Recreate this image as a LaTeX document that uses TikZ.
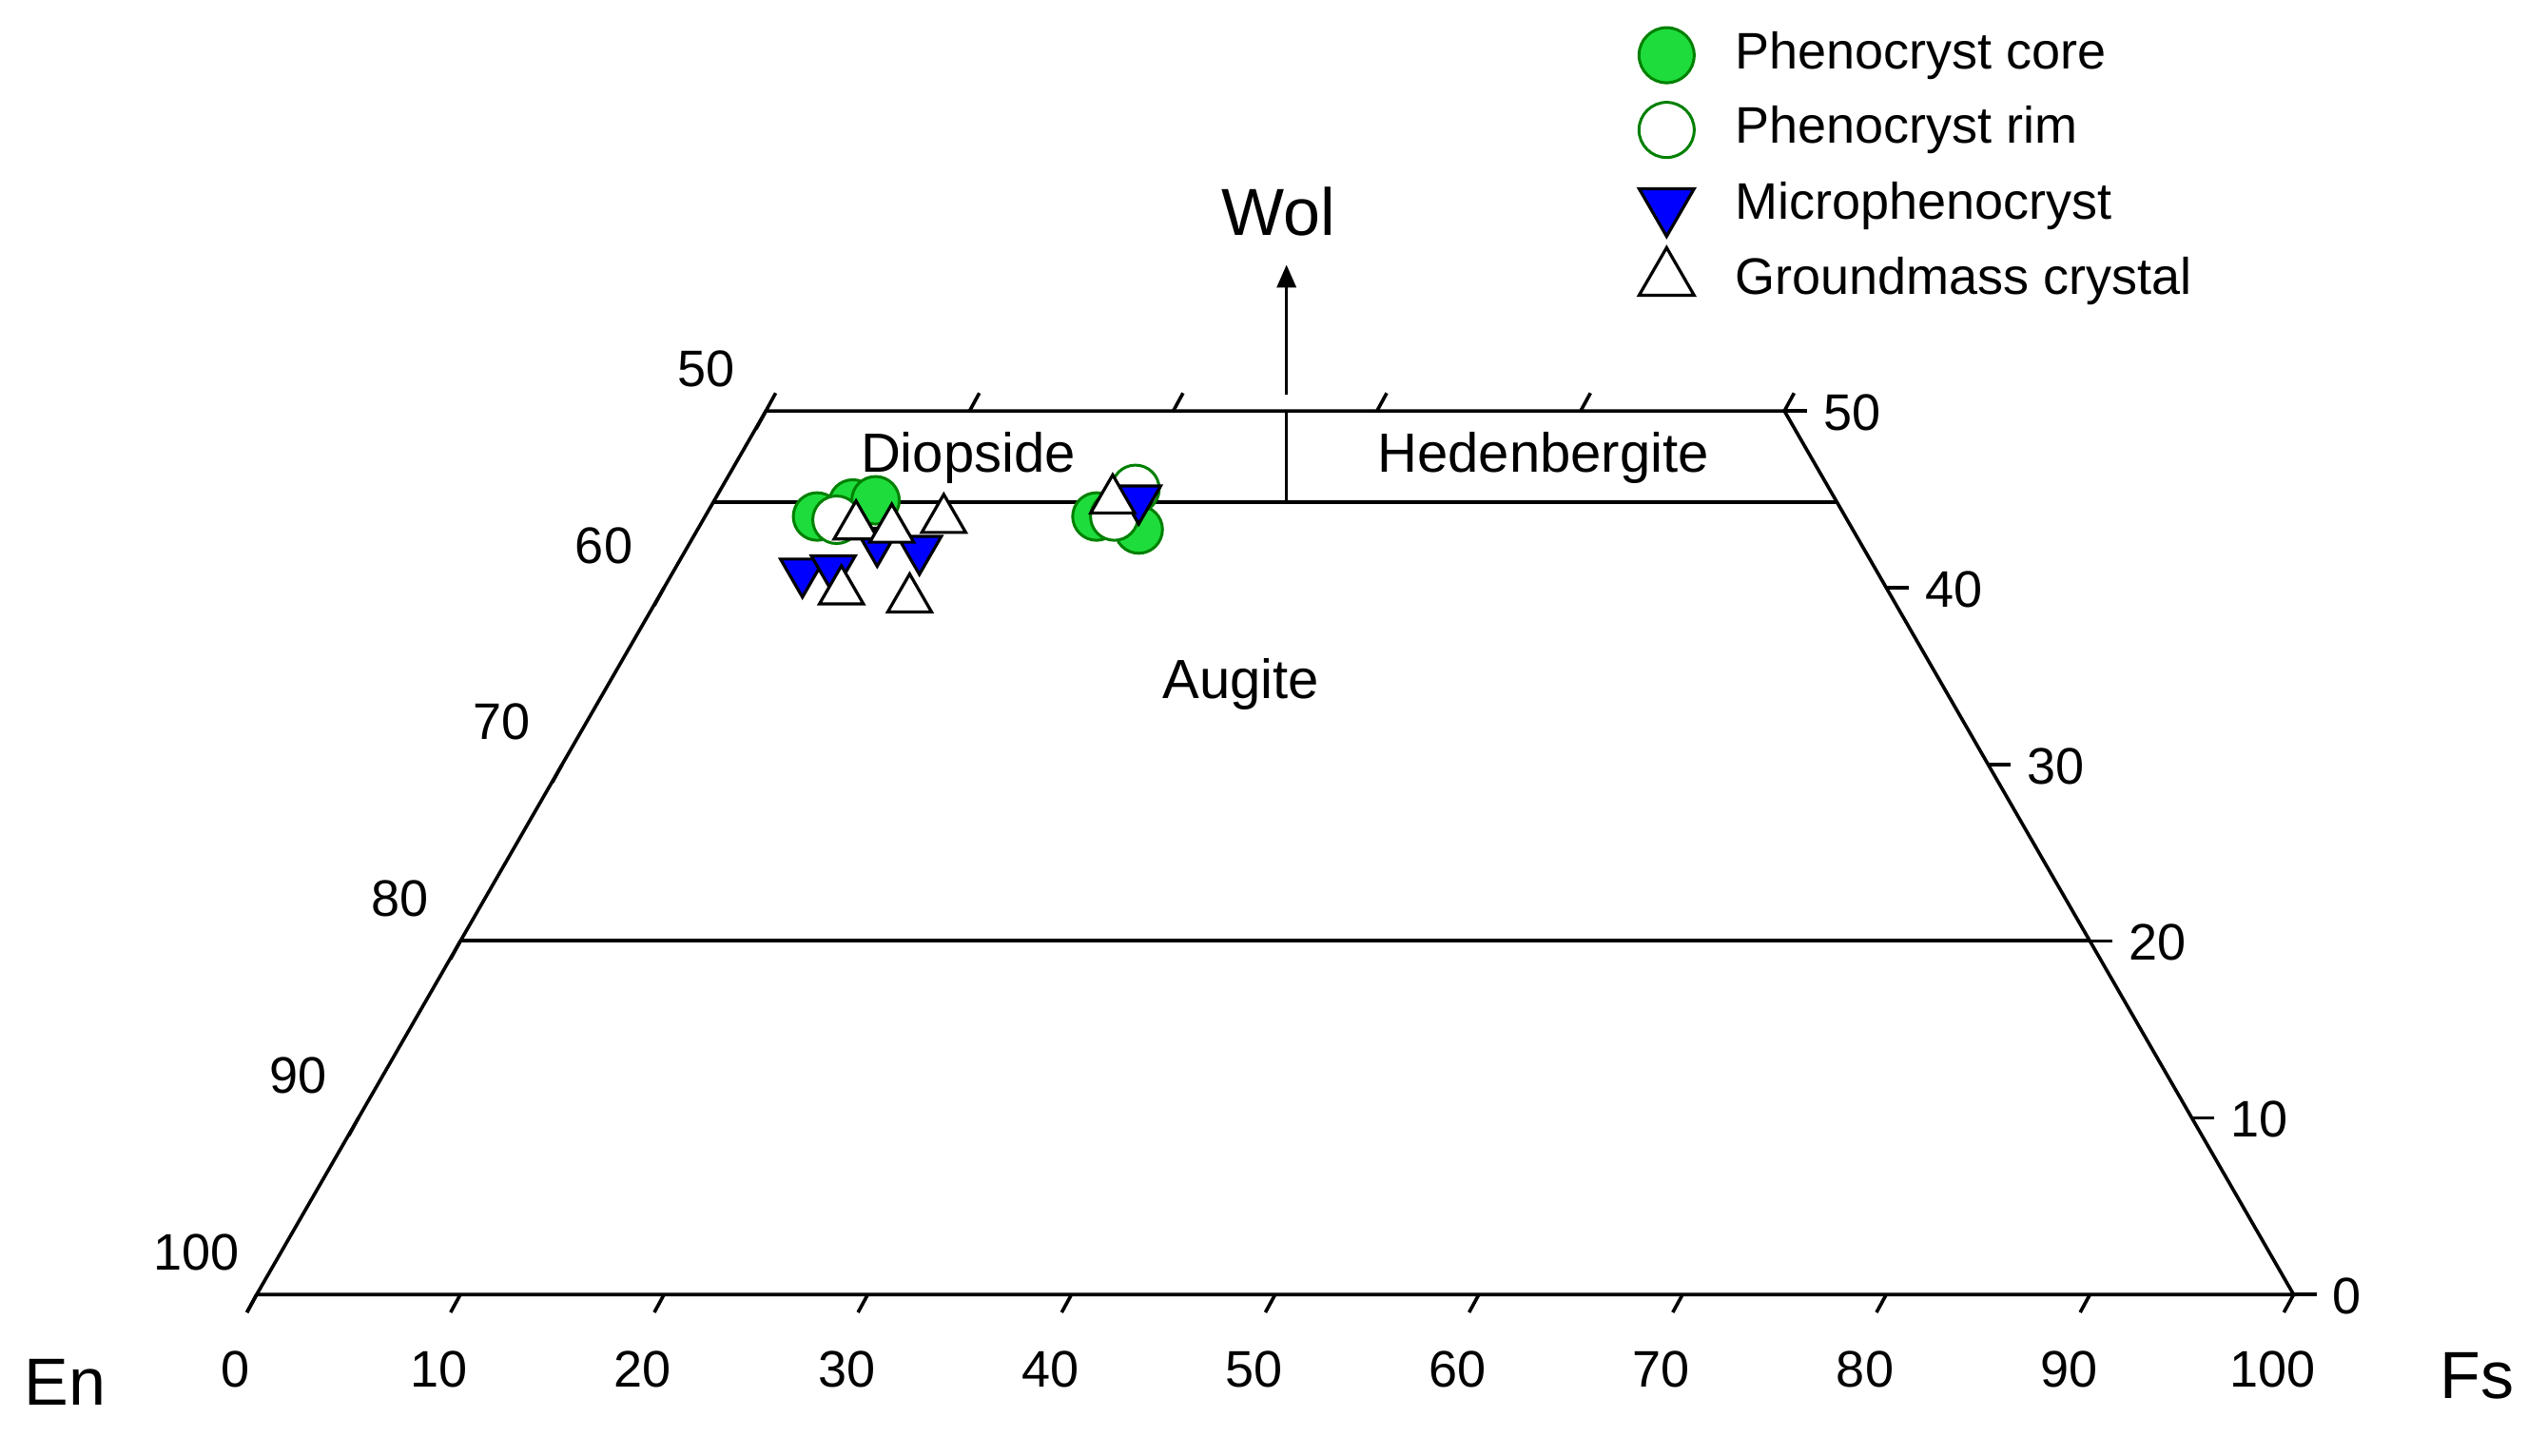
\documentclass[tikz,border=0pt]{standalone}
\usepackage{fontspec}
\setmainfont{Liberation Sans}
\usetikzlibrary{shapes.geometric,arrows.meta}
\begin{document}
\begin{tikzpicture}[x=0.03cm,y=-0.03cm,
  lab/.style={font=\fontsize{27}{31}\selectfont},
  big/.style={font=\fontsize{35}{40}\selectfont},
  gf/.style={circle,draw=green!50!black,line width=1.5pt,fill={rgb,255:red,30;green,220;blue,60},minimum size=25,inner sep=0},
  go/.style={circle,draw=green!50!black,line width=1.5pt,fill=white,minimum size=25,inner sep=0},
  bt/.style={isosceles triangle,isosceles triangle apex angle=60,shape border rotate=-90,draw=black,line width=1.6pt,fill=blue,minimum height=20,inner sep=0},
  wt/.style={isosceles triangle,isosceles triangle apex angle=60,shape border rotate=90,draw=black,line width=1.6pt,fill=white,minimum height=20,inner sep=0},
  ln/.style={line width=1.8pt}]
\useasboundingbox (0,0) rectangle (1568,896);
% frame
\coordinate (BL) at (158,797); \coordinate (BR) at (1412,797);
\coordinate (TL) at (471.5,253); \coordinate (TR) at (1098.5,253);
\draw[ln] (BL) -- (BR) -- (TR) -- (TL) -- cycle;
\draw[ln] (440,309) -- (1130,309);
\draw[ln] (283.4,579) -- (1286.6,579);
\draw[ln] (792,253) -- (792,309);
\coordinate (arA) at (792,243); \coordinate (arB) at (792,163);
\draw[ln,-{Triangle[length=12pt,width=10pt]}] (arA) -- (arB);
\node[big] (wol) at (787,130) {Wol};
\node[big] (en) at (40,851) {En};
\node[big] (fs) at (1525,847) {Fs};
\node[lab,font=\fontsize{29}{33}\selectfont] (di) at (596,282) {Diopside};
\node[lab,font=\fontsize{29}{33}\selectfont] (he) at (950,282) {Hedenbergite};
\node[lab,font=\fontsize{29}{33}\selectfont] (au) at (764,421) {Augite};
% bottom ticks/labels
\foreach \k in {0,...,10}{
  \pgfmathsetmacro{\xx}{158+125.4*\k}
  \draw[ln] (\xx,797) -- ++(-6,11);
  \pgfmathtruncatemacro{\v}{10*\k}
  \node[lab] at (\xx-13,843) {\v};
}
% left and right edge ticks
\foreach \w/\lv/\rv in {0/100/0,10/90/10,20/80/20,30/70/30,40/60/40,50/50/50}{
  \pgfmathsetmacro{\lx}{158+6.27*\w}
  \pgfmathsetmacro{\rx}{1412-6.27*\w}
  \pgfmathsetmacro{\yy}{797-10.88*\w}
  \draw[ln] (\lx,\yy) -- ++(-6,11);
  \draw[ln] (\rx,\yy) -- ++(14,0);
  \node[lab] at (\lx-37,\yy-26) {\lv};
  \node[lab,anchor=west] at (\rx+20,\yy+1) {\rv};
}
% top edge ticks
\foreach \k in {0,...,5}{
  \pgfmathsetmacro{\xx}{471.5+125.4*\k}
  \draw[ln] (\xx,253) -- ++(6,-11);
}
% data
\node[gf] (g1) at (503,318) {};
\node[gf] (g2) at (525,310) {};
\node[gf] (g3) at (539,308) {};
\node[go] (o1) at (515,320) {};
\node[gf] (g4) at (675,318) {};
\node[gf] (g5) at (701,326) {};
\node[go] (o2) at (686,318) {};
\node[go] (o3) at (699,301) {};
\node[bt] (b1) at (494,352) {};
\node[bt] (b2) at (513,350) {};
\node[bt] (b3) at (540,333) {};
\node[bt] (b4) at (566,338) {};
\node[bt] (b5) at (701,307) {};
\node[wt] (w1) at (527,324) {};
\node[wt] (w2) at (549,326) {};
\node[wt] (w3) at (581,320) {};
\node[wt] (w4) at (518,364) {};
\node[wt] (w5) at (560,369) {};
\node[wt] (w6) at (685,308) {};
% legend
\node[gf,minimum size=29] (lg1) at (1026,34) {};
\node[go,minimum size=29] (lg2) at (1026,80) {};
\node[bt,minimum height=25] (lg3) at (1026,126) {};
\node[wt,minimum height=25] (lg4) at (1026,172) {};
\node[lab,anchor=west] (t1) at (1064,34) {Phenocryst core};
\node[lab,anchor=west] (t2) at (1064,80) {Phenocryst rim};
\node[lab,anchor=west] (t3) at (1064,127) {Microphenocryst};
\node[lab,anchor=west] (t4) at (1064,173) {Groundmass crystal};
\end{tikzpicture}
\end{document}
